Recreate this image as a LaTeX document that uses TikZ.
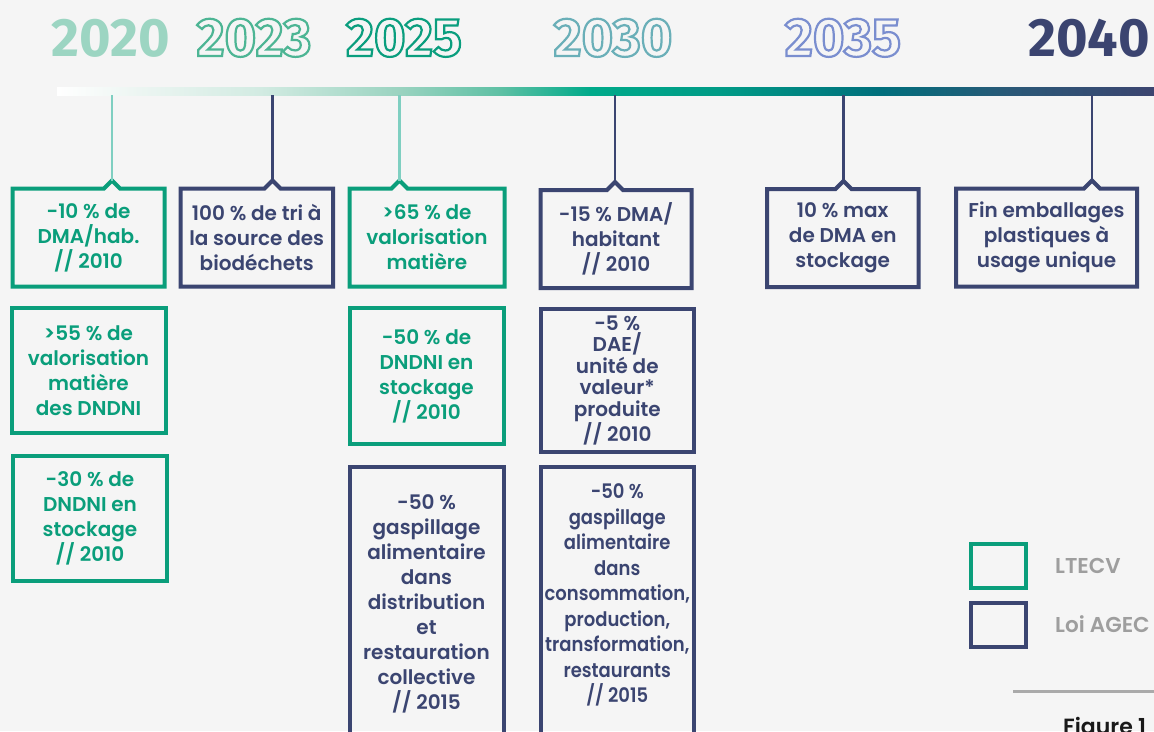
\documentclass[tikz,border=0pt]{standalone}
\usepackage{fontspec}
\setmainfont{Poppins SemiBold}
\newfontfamily\boxfont{Poppins SemiBold}
\newfontfamily\boxfontc{Poppins SemiBold}[FakeStretch=0.9]
\newfontfamily\yearfont{Fira Sans}
\usetikzlibrary{calc}
\definecolor{bgc}{HTML}{F5F5F5}
\definecolor{cgreen}{HTML}{0A9E7B}
\definecolor{cnavy}{HTML}{3B4571}
\definecolor{ctick}{HTML}{7FCFC1}
\definecolor{y2020}{HTML}{9CD5C2}
\definecolor{y2023}{HTML}{4DB594}
\definecolor{y2025}{HTML}{0A9E7E}
\definecolor{y2030}{HTML}{6AAFB8}
\definecolor{y2035}{HTML}{7A8ECF}
\definecolor{y2040}{HTML}{3B4470}
\definecolor{cgray}{HTML}{9E9E9E}
\definecolor{cline}{HTML}{AAAAAA}
\definecolor{bar0}{HTML}{FFFFFF}
\definecolor{bar1}{HTML}{EEF6F3}
\definecolor{bar2}{HTML}{D2EBE2}
\definecolor{bar3}{HTML}{9AD3C0}
\definecolor{bar4}{HTML}{5EC0A4}
\definecolor{bar5}{HTML}{00AA8A}
\definecolor{bar6}{HTML}{009B86}
\definecolor{bar7}{HTML}{006F7C}
\definecolor{bar8}{HTML}{2A5877}
\definecolor{bar9}{HTML}{3C4570}
\newcommand\hollow[2]{\textcolor{#1}{\special{pdf:literal direct 2.2 w 1 Tr}#2\special{pdf:literal direct 0 Tr}}}
\newcommand\notchframe[3]{\draw[#1, line width=4pt, line join=miter] (#2.north west) -- ($(#3 |- #2.north)+(-8,0)$) -- ($(#3 |- #2.north)+(0,-8)$) -- ($(#3 |- #2.north)+(8,0)$) -- (#2.north east) -- (#2.south east) -- (#2.south west) -- cycle;}
\tikzset{
  bt/.style={font=\boxfont\fontsize{20pt}{25pt}\selectfont, align=center, inner sep=0pt, outer sep=0pt},
  gopen/.style={bt, text=cgreen},
  nopen/.style={bt, text=cnavy},
  gframe/.style={gopen, draw=cgreen, line width=4pt},
  nframe/.style={nopen, draw=cnavy, line width=4pt},
  yr/.style={font=\yearfont\fontsize{54pt}{54pt}\selectfont\bfseries, inner sep=0pt, anchor=base},
  gtick/.style={ctick, line width=2.5pt},
  ntick/.style={cnavy, line width=2.5pt},
  legt/.style={font=\boxfont\fontsize{21.5pt}{24pt}\selectfont, text=cgray, inner sep=0pt, anchor=base west}
}
\begin{document}
\begin{tikzpicture}[x=1pt,y=-1pt]
\fill[bgc] (0,0) rectangle (1154,731);
\useasboundingbox (0,0) rectangle (1154,731);
% timeline bar
\foreach \xa/\xb/\ca/\cb in {57/130/bar0/bar1,130/260/bar1/bar2,260/400/bar2/bar3,400/500/bar3/bar4,500/590/bar4/bar5,590/720/bar5/bar6,720/880/bar6/bar7,880/1010/bar7/bar8,1010/1154/bar8/bar9}
  \shade[left color=\ca, right color=\cb] (\xa,87) rectangle ({\xb+0.6},95);
% years
\node[yr, text=y2020] (n2020) at (111,56) {2020};
\node[yr] (n2023) at (254,56) {\hollow{y2023}{2023}};
\node[yr] (n2025) at (404,56) {\hollow{y2025}{2025}};
\node[yr] (n2030) at (613,56) {\hollow{y2030}{2030}};
\node[yr] (n2035) at (843,56) {\hollow{y2035}{2035}};
\node[yr, text=y2040] (n2040) at (1089,56) {2040};
% tick origins
\coordinate (t2020) at (112,95);
\coordinate (t2023) at (272.5,95);
\coordinate (t2025) at (399.5,95);
\coordinate (t2030) at (615,95);
\coordinate (t2035) at (843.5,95);
\coordinate (t2040) at (1092,95);
% column 2020
\node[gopen, minimum width=152pt, minimum height=98pt] (b1) at (88.5,237.5) {-10 \% de\\DMA/hab.\\// 2010};
\node[gframe, minimum width=154pt, minimum height=124.5pt] (b2) at (88.5,370.25) {>55 \% de\\valorisation\\matière\\des DNDNI};
\node[gframe, minimum width=154pt, minimum height=125pt] (b3) at (90,518) {-30 \% de\\DNDNI en\\stockage\\// 2010};
% column 2023
\node[nopen, minimum width=152.5pt, minimum height=98pt] (c1) at (256.75,237.5) {100 \% de tri à\\la source des\\biodéchets};
% column 2025
\node[gopen, minimum width=155pt, minimum height=98pt] (d1) at (427,237.5) {>65 \% de\\valorisation\\matière};
\node[gframe, minimum width=154pt, minimum height=136pt] (d2) at (426.5,376) {-50 \% de\\DNDNI en\\stockage\\// 2010};
\node[nframe, minimum width=154pt, minimum height=273pt] (d3) at (426.5,603.5) {-50 \%\\gaspillage\\alimentaire\\dans\\distribution\\et\\restauration\\collective\\// 2015};
% column 2030
\node[nopen, minimum width=151pt, minimum height=98pt] (e1) at (616,239) {-15 \% DMA/\\habitant\\// 2010};
\node[nframe, minimum width=153.5pt, minimum height=143pt, font=\boxfont\fontsize{20pt}{21.4pt}\selectfont] (e2) at (617.25,380.5) {-5 \%\\DAE/\\unité de\\valeur*\\produite\\// 2010};
\node[nframe, minimum width=153.5pt, minimum height=273pt] (e3) at (617.25,603.5) {};
\node[nopen, font=\boxfontc\fontsize{20pt}{25.5pt}\selectfont] (e3t) at (617.25,595) {-50 \%\\gaspillage\\alimentaire\\dans\\consommation,\\production,\\transformation,\\restaurants\\// 2015};
% column 2035
\node[nopen, minimum width=151.5pt, minimum height=98pt] (f1) at (842.75,238) {10 \% max\\de DMA en\\stockage};
% column 2040
\node[nopen, minimum width=181pt, minimum height=98pt] (g1) at (1046.5,237.5) {Fin emballages\\plastiques à\\usage unique};
% notched frames
\notchframe{cgreen}{b1}{t2020}
\notchframe{cnavy}{c1}{t2023}
\notchframe{cgreen}{d1}{t2025}
\notchframe{cnavy}{e1}{t2030}
\notchframe{cnavy}{f1}{t2035}
\notchframe{cnavy}{g1}{t2040}
% ticks
\draw[gtick] (t2020) -- ($(t2020 |- b1.north)+(0,-8)$);
\draw[ntick] (t2023) -- ($(t2023 |- c1.north)+(0,-8)$);
\draw[gtick] (t2025) -- ($(t2025 |- d1.north)+(0,-8)$);
\draw[ntick] (t2030) -- ($(t2030 |- e1.north)+(0,-8)$);
\draw[ntick] (t2035) -- ($(t2035 |- f1.north)+(0,-8)$);
\draw[ntick] (t2040) -- ($(t2040 |- g1.north)+(0,-8)$);
% legend
\node[gframe, minimum width=55pt, minimum height=44pt] (lg) at (998.5,565.5) {};
\node[nframe, minimum width=55pt, minimum height=44pt] (ln) at (998.5,624.5) {};
\node[legt] (lgt) at (1055,573) {LTECV};
\node[legt] (lnt) at (1055,632.5) {Loi AGEC};
\coordinate (rl1) at (1013,691);
\coordinate (rl2) at (1154,691);
\draw[cline, line width=3pt] (rl1) -- (rl2);
\node[font=\boxfont\fontsize{22pt}{26pt}\selectfont, text=black!90, inner sep=0pt, anchor=base west] (fig) at (1063,734) {Figure 1};
\end{tikzpicture}
\end{document}
